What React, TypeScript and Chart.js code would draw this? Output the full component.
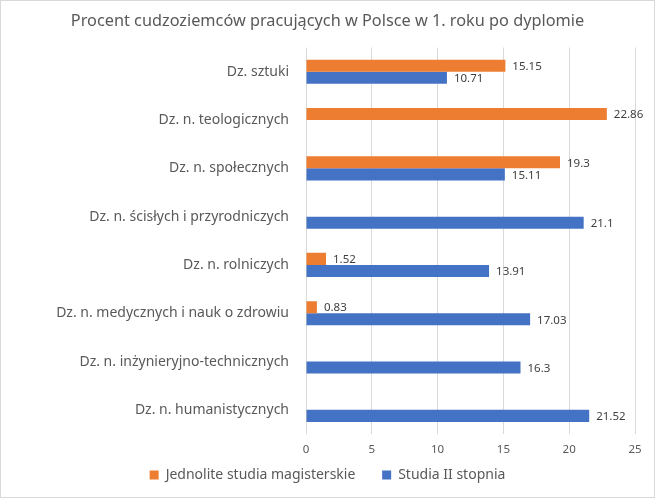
import React, { useEffect, useRef } from "react";
import { Chart, registerables } from "chart.js";

Chart.register(...registerables);

const categories = [
  "Dz. sztuki",
  "Dz. n. teologicznych",
  "Dz. n. społecznych",
  "Dz. n. ścisłych i przyrodniczych",
  "Dz. n. rolniczych",
  "Dz. n. medycznych i nauk o zdrowiu",
  "Dz. n. inżynieryjno-technicznych",
  "Dz. n. humanistycznych",
];
const jednolite: (number | null)[] = [15.15, 22.86, 19.3, null, 1.52, 0.83, null, null];
const drugiStopien: (number | null)[] = [10.71, null, 15.11, 21.1, 13.91, 17.03, 16.3, 21.52];
const seriesNames = ["Jednolite studia magisterskie", "Studia II stopnia"];
const titleText = "Procent cudzoziemców pracujących w Polsce w 1. roku po dyplomie";

const FONT = "'Noto Sans', 'Open Sans', sans-serif";

const labelPlugin = {
  id: "barLabels",
  afterDatasetsDraw(chart: any) {
    const ctx = chart.ctx;
    ctx.save();
    ctx.font = `11.5px ${FONT}`;
    ctx.fillStyle = "#404040";
    ctx.textAlign = "left";
    ctx.textBaseline = "middle";
    chart.data.datasets.forEach((ds: any, i: number) => {
      const meta = chart.getDatasetMeta(i);
      meta.data.forEach((el: any, j: number) => {
        const v = ds.data[j];
        if (v === null || v === undefined) return;
        ctx.fillText(String(v), el.x + 7, el.y + 1);
      });
    });
    ctx.restore();
  },
};

const borderPlugin = {
  id: "outerBorder",
  beforeDraw(chart: any) {
    const ctx = chart.ctx;
    ctx.save();
    ctx.fillStyle = "#ffffff";
    ctx.fillRect(0, 0, chart.width, chart.height);
    ctx.strokeStyle = "#d9d9d9";
    ctx.lineWidth = 1;
    ctx.strokeRect(0.5, 0.5, chart.width - 1, chart.height - 1);
    ctx.restore();
  },
};

export default function App() {
  const ref = useRef<HTMLCanvasElement>(null);
  useEffect(() => {
    if (!ref.current) return;
    const chart = new Chart(ref.current, {
      type: "bar",
      data: {
        labels: categories,
        datasets: [
          {
            label: seriesNames[0],
            data: jednolite,
            backgroundColor: "#ED7D31",
            barPercentage: 1,
            categoryPercentage: 0.5,
          },
          {
            label: seriesNames[1],
            data: drugiStopien,
            backgroundColor: "#4472C4",
            barPercentage: 1,
            categoryPercentage: 0.5,
          },
        ],
      },
      plugins: [borderPlugin, labelPlugin],
      options: {
        indexAxis: "y",
        animation: false,
        responsive: false,
        maintainAspectRatio: false,
        layout: { padding: { left: 20, right: 20, top: 0, bottom: 6 } },
        plugins: {
          title: {
            display: true,
            text: titleText,
            color: "#595959",
            font: { family: FONT, size: 16.3, weight: "normal" },
            padding: { top: 12, bottom: 16 },
          },
          legend: {
            position: "bottom",
            labels: {
              color: "#595959",
              font: { family: FONT, size: 14 },
              boxWidth: 9,
              boxHeight: 9,
              padding: 5,
              generateLabels(chart: any) {
                const items = Chart.defaults.plugins.legend.labels.generateLabels(chart);
                return items.map((it: any, i: number) =>
                  i < items.length - 1 ? { ...it, text: it.text + "\u00A0\u00A0\u00A0\u00A0\u00A0\u00A0" } : it
                );
              },
            },
          },
          tooltip: { enabled: false },
        },
        scales: {
          x: {
            min: 0,
            max: 25,
            ticks: { stepSize: 5, color: "#595959", font: { family: FONT, size: 11.5 }, padding: 9 },
            grid: { color: "#d9d9d9", drawTicks: false },
            border: { display: false },
            afterFit(scale: any) {
              scale.height = 29;
            },
          },
          y: {
            ticks: { color: "#595959", font: { family: FONT, size: 14 }, padding: 9 },
            grid: { display: false },
            border: { display: false },
            afterFit(scale: any) {
              scale.width = 286;
            },
          },
        },
      },
    } as any);
    return () => chart.destroy();
  }, []);
  return (
    <div style={{ position: "fixed", left: 0, top: 0, width: 655, height: 498 }}>
      <canvas ref={ref} width={655} height={498} style={{ width: 655, height: 498 }} />
    </div>
  );
}
